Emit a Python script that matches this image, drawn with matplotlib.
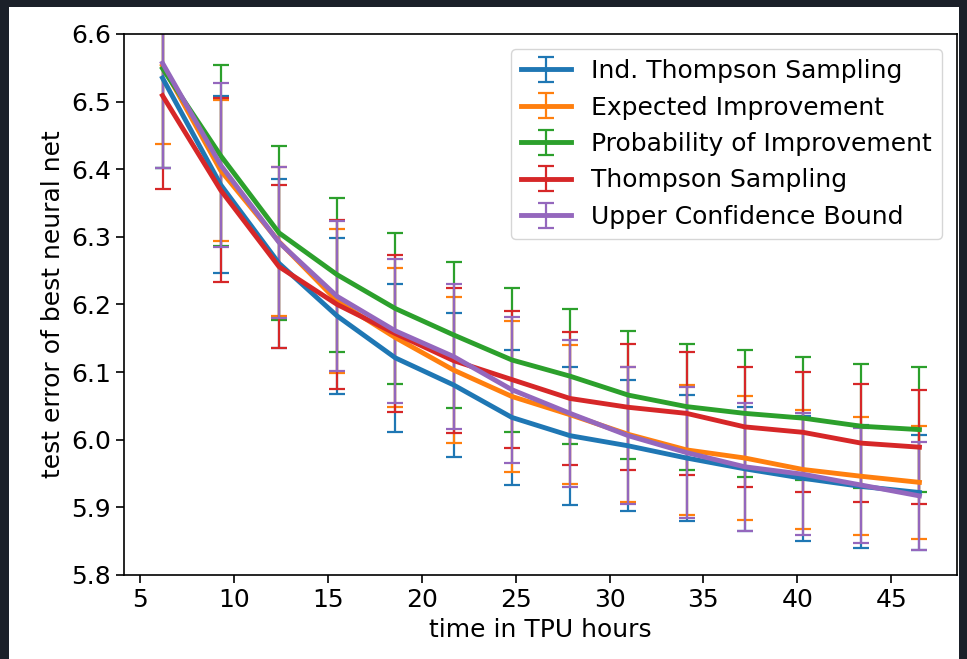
import numpy as np
import matplotlib
matplotlib.use("Agg")
import matplotlib.pyplot as plt
from matplotlib.patches import Rectangle

# TPU hours at which the best net was evaluated
hours = [6.2, 9.3, 12.4, 15.5, 18.6, 21.7, 24.8, 27.9, 31.0, 34.1, 37.2, 40.3, 43.4, 46.5]

# mean test error and error bar half-width per method
ind_ts = [6.535, 6.377, 6.261, 6.183, 6.121, 6.081, 6.033, 6.006, 5.991, 5.973, 5.957, 5.943, 5.931, 5.922]
ind_ts_err = [0.133, 0.131, 0.125, 0.115, 0.109, 0.106, 0.100, 0.102, 0.097, 0.093, 0.092, 0.092, 0.091, 0.085]

ei = [6.553, 6.398, 6.293, 6.205, 6.151, 6.103, 6.064, 6.037, 6.008, 5.985, 5.973, 5.956, 5.946, 5.937]
ei_err = [0.116, 0.104, 0.110, 0.107, 0.103, 0.108, 0.112, 0.103, 0.100, 0.096, 0.092, 0.088, 0.087, 0.084]

pi = [6.549, 6.420, 6.306, 6.244, 6.194, 6.155, 6.118, 6.094, 6.066, 6.049, 6.039, 6.032, 6.020, 6.015]
pi_err = [0.147, 0.134, 0.129, 0.114, 0.111, 0.108, 0.106, 0.100, 0.095, 0.093, 0.094, 0.091, 0.092, 0.093]

ts = [6.509, 6.369, 6.256, 6.200, 6.157, 6.117, 6.089, 6.061, 6.048, 6.039, 6.019, 6.011, 5.995, 5.989]
ts_err = [0.138, 0.136, 0.120, 0.125, 0.116, 0.107, 0.101, 0.098, 0.093, 0.091, 0.089, 0.089, 0.087, 0.084]

ucb = [6.557, 6.406, 6.292, 6.212, 6.161, 6.123, 6.074, 6.039, 6.006, 5.981, 5.960, 5.949, 5.933, 5.917]
ucb_err = [0.155, 0.121, 0.112, 0.111, 0.107, 0.107, 0.108, 0.109, 0.101, 0.097, 0.095, 0.090, 0.085, 0.080]

labels = ["Ind. Thompson Sampling", "Expected Improvement",
          "Probability of Improvement", "Thompson Sampling",
          "Upper Confidence Bound"]
means = [ind_ts, ei, pi, ts, ucb]
errs = [ind_ts_err, ei_err, pi_err, ts_err, ucb_err]
colors = ["#1f77b4", "#ff7f0e", "#2ca02c", "#d62728", "#9467bd"]

fig = plt.figure(figsize=(9.67, 6.59), dpi=100)
fig.patch.set_facecolor("#1b2029")
# white page area of the screenshot
fig.patches.append(Rectangle((9 / 967, 0), 950 / 967, 652 / 659,
                             transform=fig.transFigure, facecolor="white",
                             edgecolor="none", zorder=-10))

ax = fig.add_axes([124 / 967, 1 - 575 / 659, 833 / 967, 541 / 659])

for m, e, c, lab in zip(means, errs, colors, labels):
    ax.errorbar(hours, m, yerr=e, color=c, label=lab, linewidth=3.5,
                elinewidth=1.6, capsize=5.5, capthick=1.6)

ax.set_xlim(4.15, 48.5)
ax.set_ylim(5.8, 6.6)
ax.set_xticks([5, 10, 15, 20, 25, 30, 35, 40, 45])
ax.set_yticks([5.8, 5.9, 6.0, 6.1, 6.2, 6.3, 6.4, 6.5, 6.6])
ax.tick_params(labelsize=18, length=6, width=1.2)
for s in ax.spines.values():
    s.set_linewidth(1.2)

ax.set_xlabel("time in TPU hours", fontsize=18)
ax.set_ylabel("test error of best neural net", fontsize=18)

ax.legend(loc="upper right", fontsize=18, borderaxespad=0.6,
          labelspacing=0.5)

fig.savefig("out.png", dpi=100, facecolor=fig.get_facecolor())
